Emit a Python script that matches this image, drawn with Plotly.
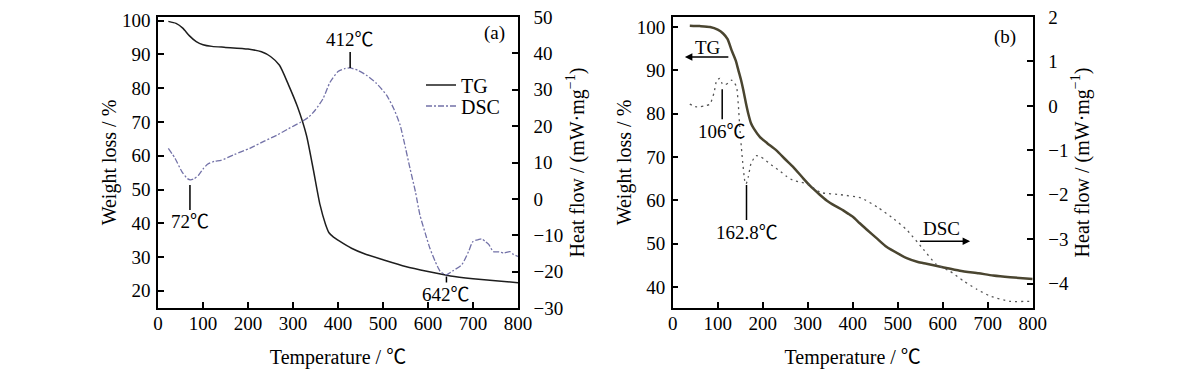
import plotly.graph_objects as go

# panel (a): TG (left axis, %) and DSC (right axis, mW/mg)
a_tg_temp = [23, 40, 55, 70, 85, 100, 120, 150, 200, 230, 250, 270, 290, 310, 330, 345, 360, 372, 380, 390, 400,
             430, 460, 500, 550, 600, 650, 700, 750, 800]
a_tg = [99.8, 99.2, 97.8, 95.5, 93.8, 92.9, 92.4, 92.1, 91.6, 90.8, 89.4, 86.8, 81.0, 74.5, 66.0, 56.0, 45.5,
        39.8, 37.2, 35.9, 35.0, 32.6, 30.9, 29.2, 27.2, 25.7, 24.4, 23.6, 23.0, 22.4]

a_dsc_temp = [23, 38, 53, 65, 72, 80, 90, 100, 110, 125, 140, 170, 204, 235, 264, 290, 316, 335, 350, 367,
              382, 400, 415, 427, 445, 463, 485, 508, 525, 538, 550, 560, 572, 582, 594, 604, 616, 627, 638,
              642, 655, 675, 690, 700, 712, 720, 727, 735, 745, 758, 768, 782, 790, 800]
a_dsc = [13.9, 11.1, 7.5, 5.6, 5.2, 5.5, 6.5, 8.2, 9.5, 10.3, 10.6, 12.2, 13.9, 15.8, 17.5, 19.3, 21.0, 22.5,
         24.5, 27.6, 32.0, 35.0, 35.8, 36.0, 35.3, 34.0, 31.8, 28.5, 24.5, 20.3, 14.0, 8.4, 2.0, -4.4, -9.5,
         -13.5, -17.2, -19.9, -20.8, -20.8, -19.8, -18.1, -14.5, -11.7, -11.2, -11.0, -11.7, -12.5, -14.5,
         -14.6, -14.9, -14.5, -15.3, -15.8]

# panel (b)
b_tg_temp = [38, 60, 83, 100, 112, 122, 131, 140, 146, 152, 157, 163, 168, 174, 180, 194, 210, 231, 250, 268,
             290, 305, 325, 342, 360, 379, 392, 401, 415, 431, 453, 475, 505, 520, 545, 564, 600, 638, 680,
             712, 750, 800]
b_tg = [100.3, 100.2, 100.0, 99.4, 98.5, 97.2, 94.6, 92.3, 90.0, 87.7, 85.4, 82.3, 80.0, 77.8, 76.6, 74.6,
        73.2, 71.5, 69.5, 67.7, 65.1, 63.4, 61.5, 60.0, 58.8, 57.7, 56.8, 56.2, 54.8, 53.3, 51.3, 49.3, 47.5,
        46.7, 45.8, 45.4, 44.6, 43.8, 43.2, 42.7, 42.3, 41.9]

b_dsc_temp = [38, 50, 60, 72, 83, 92, 98, 105, 110, 116, 124, 131, 138, 142, 146, 149, 154, 160, 163, 168,
              174, 185, 196, 207, 222, 236, 252, 268, 285, 300, 329, 373, 418, 455, 492, 521, 557, 586, 616,
              646, 676, 705, 749, 793, 800]
b_dsc = [0.04, -0.02, -0.02, 0.0, 0.04, 0.3, 0.58, 0.62, 0.5, 0.47, 0.52, 0.58, 0.5, 0.43, 0.0, -0.47, -1.1,
         -1.68, -1.76, -1.6, -1.30, -1.12, -1.15, -1.23, -1.35, -1.45, -1.58, -1.68, -1.72, -1.76, -1.95, -2.0,
         -2.07, -2.28, -2.55, -2.8, -3.23, -3.57, -3.72, -3.94, -4.13, -4.28, -4.40, -4.40, -4.40]

x_ticks = list(range(0, 801, 100))
a_left_ticks = list(range(20, 101, 10))
a_right_ticks = list(range(-30, 51, 10))
b_left_ticks = list(range(40, 101, 10))
b_right_ticks = list(range(-4, 3, 1))

FONT = "Times New Roman, Liberation Serif, Noto Sans CJK SC, serif"
FS = 19

# the page puts the figure 8px in from the top-left corner
W, H = 1192, 366

fig = go.Figure()
fig.add_trace(go.Scatter(x=a_tg_temp, y=a_tg, mode="lines", name="TG", legend="legend",
                         line=dict(color="#1e1e1e", width=1.5, shape="spline", smoothing=0.6),
                         xaxis="x", yaxis="y"))
fig.add_trace(go.Scatter(x=a_dsc_temp, y=a_dsc, mode="lines", name="DSC", legend="legend2",
                         line=dict(color="#7372a8", width=1.3, dash="6px,2px,2px,2px", shape="spline",
                                   smoothing=0.6),
                         xaxis="x", yaxis="y2"))
fig.add_trace(go.Scatter(x=b_tg_temp, y=b_tg, mode="lines", showlegend=False,
                         line=dict(color="#4a4530", width=2.5, shape="spline", smoothing=0.6),
                         xaxis="x2", yaxis="y3"))
fig.add_trace(go.Scatter(x=b_dsc_temp, y=b_dsc, mode="lines", showlegend=False,
                         line=dict(color="#555555", width=1.3, dash="2px,4px", shape="spline", smoothing=0.5),
                         xaxis="x2", yaxis="y4"))

axis_common = dict(showline=True, linecolor="black", linewidth=1.5, ticks="inside", ticklen=6,
                   tickwidth=1.5, tickcolor="black", showgrid=False, zeroline=False, automargin=False,
                   ticklabeloverflow="allow", tickfont=dict(family=FONT, size=FS, color="black"))
title_font = dict(family=FONT, size=FS + 1, color="black")
heat_title = "Heat flow / (mW·mg<sup>−1</sup>)"

legend_common = dict(xanchor="left", yanchor="middle", bgcolor="rgba(0,0,0,0)",
                     font=dict(family=FONT, size=FS + 1), itemwidth=30)

fig.update_layout(
    width=W, height=H,
    margin=dict(l=0, r=0, t=9, b=66),
    paper_bgcolor="white", plot_bgcolor="white",
    font=dict(family=FONT, size=FS, color="black"),
    xaxis=dict(domain=[150 / W, 510 / W], range=[0, 800], tickvals=x_ticks, mirror=True, anchor="y",
               ticklabelstandoff=-3, title=dict(text="Temperature / ℃", font=title_font, standoff=17),
               **axis_common),
    yaxis=dict(range=[14.9, 101.1], tickvals=a_left_ticks, anchor="x", ticklabelstandoff=2,
               title=dict(text="Weight loss / %", font=title_font, standoff=0), **axis_common),
    yaxis2=dict(range=[-30, 50], tickvals=a_right_ticks, overlaying="y", side="right", anchor="x",
                ticklabelstandoff=10, title=dict(text=heat_title, font=title_font, standoff=0), **axis_common),
    xaxis2=dict(domain=[664.7 / W, 1024.7 / W], range=[0, 800], tickvals=x_ticks, mirror=True, anchor="y3",
                ticklabelstandoff=-3, title=dict(text="Temperature / ℃", font=title_font, standoff=17),
                **axis_common),
    yaxis3=dict(range=[35.2, 102.3], tickvals=b_left_ticks, anchor="x2", ticklabelstandoff=2,
                title=dict(text="Weight loss / %", font=title_font, standoff=0), **axis_common),
    yaxis4=dict(range=[-4.55, 2.0], tickvals=b_right_ticks, overlaying="y3", side="right", anchor="x2",
                ticklabelstandoff=10, title=dict(text=heat_title, font=title_font, standoff=0), **axis_common),
    legend=dict(x=413 / W, y=(300 - 77) / 291, **legend_common),
    legend2=dict(x=413 / W, y=(300 - 98) / 291, **legend_common),
)

ann_font = dict(family=FONT, size=FS, color="black")
# peak / valley markers: (x, y, text, xref, yref, ay, standoff)
markers = [
    (71, 5.2, "72℃", "x", "y2", 42, 5),
    (427, 36.0, "412℃", "x", "y2", -28, 0),
    (641, -20.8, "642℃", "x", "y2", 20, 2),
    (110, 0.62, "106℃", "x2", "y4", 53, 11),
    (164, -1.76, "162.8℃", "x2", "y4", 48, 1),
]
for mx, my, txt, xr, yr, ay, so in markers:
    fig.add_annotation(x=mx, y=my, xref=xr, yref=yr, text=txt, showarrow=True, arrowhead=0,
                       arrowwidth=1.5, arrowcolor="black", ax=0, ay=ay, standoff=so, font=ann_font)

fig.add_annotation(x=748, y=96.4, xref="x", yref="y", text="(a)", showarrow=False, font=ann_font)
fig.add_annotation(x=738, y=97.6, xref="x2", yref="y3", text="(b)", showarrow=False, font=ann_font)

# direction arrows in panel (b)
fig.add_annotation(x=27, y=93.1, xref="x2", yref="y3", ax=127, ay=93.1, axref="x2", ayref="y3",
                   text="", showarrow=True, arrowhead=2, arrowsize=1, arrowwidth=1.5, arrowcolor="black")
fig.add_annotation(x=78, y=95.2, xref="x2", yref="y3", text="TG", showarrow=False, font=ann_font)
fig.add_annotation(x=661, y=50.6, xref="x2", yref="y3", ax=546, ay=50.6, axref="x2", ayref="y3",
                   text="", showarrow=True, arrowhead=2, arrowsize=1, arrowwidth=1.5, arrowcolor="black")
fig.add_annotation(x=598, y=53.6, xref="x2", yref="y3", text="DSC", showarrow=False, font=ann_font)

fig.write_html("out.html")
